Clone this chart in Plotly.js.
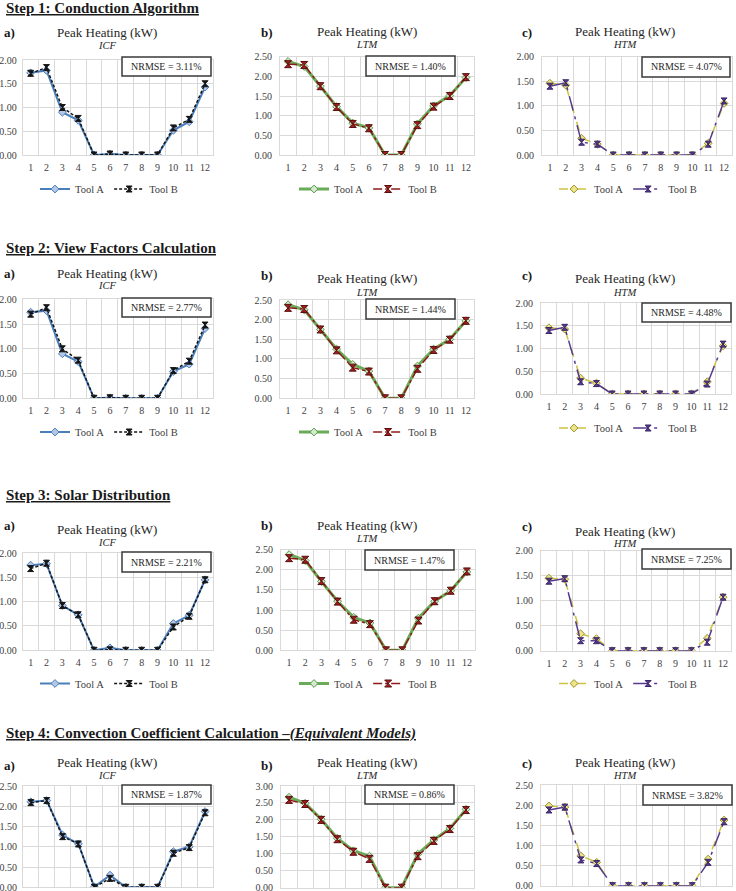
<!DOCTYPE html>
<html>
<head>
<meta charset="utf-8">
<script src="https://cdn.plot.ly/plotly-3.0.1.min.js"></script>
<style>
  html, body { margin: 0; padding: 0; background: #ffffff; }
  #chart { width: 736px; height: 891px; }
</style>
</head>
<body>
<div id="chart"></div>
<script>
// Months on the category axis
const months = ['1', '2', '3', '4', '5', '6', '7', '8', '9', '10', '11', '12'];

// Step 1: Conduction Algorithm — peak heating (kW)
const step1IcfA = [1.73, 1.78, 0.90, 0.73, 0.00, 0.02, 0.00, 0.00, 0.00, 0.52, 0.70, 1.43];
const step1IcfB = [1.72, 1.84, 1.00, 0.77, 0.00, 0.02, 0.00, 0.00, 0.00, 0.57, 0.75, 1.50];
const step1LtmA = [2.38, 2.25, 1.75, 1.23, 0.81, 0.69, 0.00, 0.00, 0.79, 1.25, 1.51, 1.97];
const step1LtmB = [2.31, 2.29, 1.75, 1.22, 0.79, 0.68, 0.00, 0.00, 0.76, 1.23, 1.50, 1.98];
const step1HtmA = [1.46, 1.42, 0.34, 0.22, 0.00, 0.00, 0.00, 0.00, 0.00, 0.00, 0.24, 1.05];
const step1HtmB = [1.40, 1.47, 0.26, 0.22, 0.00, 0.00, 0.00, 0.00, 0.00, 0.00, 0.22, 1.10];

// Step 2: View Factors Calculation
const step2IcfA = [1.74, 1.77, 0.90, 0.74, 0.00, 0.01, 0.00, 0.00, 0.00, 0.54, 0.69, 1.41];
const step2IcfB = [1.70, 1.83, 1.00, 0.77, 0.00, 0.01, 0.00, 0.00, 0.00, 0.56, 0.75, 1.48];
const step2LtmA = [2.38, 2.25, 1.75, 1.25, 0.86, 0.69, 0.00, 0.00, 0.82, 1.25, 1.50, 1.97];
const step2LtmB = [2.30, 2.27, 1.75, 1.22, 0.78, 0.68, 0.00, 0.00, 0.75, 1.23, 1.49, 1.97];
const step2HtmA = [1.46, 1.43, 0.35, 0.24, 0.00, 0.00, 0.00, 0.00, 0.00, 0.00, 0.27, 1.06];
const step2HtmB = [1.40, 1.47, 0.27, 0.23, 0.00, 0.00, 0.00, 0.00, 0.00, 0.00, 0.22, 1.10];

// Step 3: Solar Distribution
const step3IcfA = [1.75, 1.78, 0.92, 0.73, 0.00, 0.05, 0.00, 0.00, 0.00, 0.55, 0.72, 1.45];
const step3IcfB = [1.68, 1.79, 0.92, 0.73, 0.00, 0.01, 0.00, 0.00, 0.00, 0.48, 0.70, 1.45];
const step3LtmA = [2.38, 2.23, 1.71, 1.22, 0.82, 0.68, 0.00, 0.00, 0.80, 1.22, 1.48, 1.95];
const step3LtmB = [2.29, 2.25, 1.72, 1.21, 0.76, 0.65, 0.00, 0.00, 0.74, 1.22, 1.48, 1.96];
const step3HtmA = [1.45, 1.43, 0.34, 0.24, 0.00, 0.00, 0.00, 0.00, 0.00, 0.00, 0.25, 1.07];
const step3HtmB = [1.39, 1.44, 0.20, 0.20, 0.00, 0.00, 0.00, 0.00, 0.00, 0.00, 0.17, 1.07];

// Step 4: Convection Coefficient Calculation (Equivalent Models)
const step4IcfA = [2.11, 2.14, 1.29, 1.07, 0.01, 0.30, 0.00, 0.00, 0.00, 0.88, 1.00, 1.87];
const step4IcfB = [2.09, 2.14, 1.25, 1.07, 0.00, 0.22, 0.00, 0.00, 0.00, 0.84, 0.98, 1.84];
const step4LtmA = [2.67, 2.49, 2.02, 1.46, 1.09, 0.93, 0.00, 0.00, 0.99, 1.41, 1.75, 2.31];
const step4LtmB = [2.59, 2.47, 2.00, 1.43, 1.06, 0.85, 0.00, 0.00, 0.93, 1.38, 1.73, 2.29];
const step4HtmA = [1.98, 1.95, 0.74, 0.58, 0.00, 0.00, 0.00, 0.00, 0.00, 0.00, 0.66, 1.63];
const step4HtmB = [1.88, 1.95, 0.64, 0.55, 0.00, 0.00, 0.00, 0.00, 0.00, 0.00, 0.58, 1.59];

// Error labels, one per panel (row by row)
const nrmseLabels = [
  'NRMSE = 3.11%', 'NRMSE = 1.40%', 'NRMSE = 4.07%',
  'NRMSE = 2.77%', 'NRMSE = 1.44%', 'NRMSE = 4.48%',
  'NRMSE = 2.21%', 'NRMSE = 1.47%', 'NRMSE = 7.25%',
  'NRMSE = 1.87%', 'NRMSE = 0.86%', 'NRMSE = 3.82%'
];

// Y-axis upper limits per panel
const yAxisMax = [2.0, 2.5, 2.0, 2.0, 2.5, 2.0, 2.0, 2.5, 2.0, 2.5, 3.0, 2.5];

const stepHeadings = [
  '<b>Step 1: Conduction Algorithm</b>',
  '<b>Step 2: View Factors Calculation</b>',
  '<b>Step 3: Solar Distribution</b>',
  '<b>Step 4: Convection Coefficient Calculation –<i>(Equivalent Models)</i></b>'
];
const modelNames = ['ICF', 'LTM', 'HTM'];
const panelLetters = ['a)', 'b)', 'c)'];
const chartTitle = 'Peak Heating (kW)';
const seriesNames = ['Tool A', 'Tool B'];

const panelSeries = [
  [step1IcfA, step1IcfB], [step1LtmA, step1LtmB], [step1HtmA, step1HtmB],
  [step2IcfA, step2IcfB], [step2LtmA, step2LtmB], [step2HtmA, step2HtmB],
  [step3IcfA, step3IcfB], [step3LtmA, step3LtmB], [step3HtmA, step3HtmB],
  [step4IcfA, step4IcfB], [step4LtmA, step4LtmB], [step4HtmA, step4HtmB]
];

// ---- page geometry (pixels) ----
const W = 736, H = 891;
const px = v => v / W;
const py = v => 1 - v / H;
const SERIF = 'Liberation Serif, Times New Roman, serif';

// plot area of every panel: [left, right, top, bottom]
const frames = [
  [22.7, 213, 60, 155], [280, 474, 56.7, 155], [542, 732, 56.7, 155],
  [22.7, 213, 299.3, 398.3], [280, 474, 300, 398.3], [541, 731, 303.3, 394],
  [22.7, 213, 553, 650.3], [281, 475, 549.7, 650.3], [541, 731, 550.7, 650.7],
  [23, 213, 786, 887.3], [281, 474, 786, 887.7], [541, 732, 785, 885.7]
];
// NRMSE box: [left, right, top, bottom]
const boxes = [
  [122, 211, 57, 76], [366, 455, 56, 76], [642, 730, 57, 77],
  [122, 211, 298, 317], [366, 455, 299, 319], [642, 731, 303, 322],
  [122, 211, 552, 572], [365, 454, 550, 570], [642, 731, 549, 569],
  [122, 211, 785, 804], [365, 454, 785, 804], [643, 732, 785, 805]
];
// [title y, model y, letter y]
const headerY = [
  [32, 46, 33], [31.7, 45, 32], [31.7, 45, 33],
  [273, 285, 273], [278, 292, 275], [278, 292, 276],
  [529, 542, 525], [525, 538, 525], [531, 543, 526],
  [762, 775, 765], [762, 775, 765], [762, 775, 763]
];
const legendY = [189, 189, 189, 432, 432, 428, 683.5, 683.5, 683.5, null, null, null];
const colTitleX = [107, 367, 625];
const colLetterX = [9.5, 267, 527];
const colLegendX = [109, 368, 628];
const headingY = [8, 248, 495, 733];

// line/marker styling per model and tool
const styles = {
  ICF: [
    { line: { color: '#4a7ebb', width: 2 },
      marker: { symbol: 'diamond', size: 6, color: '#b4c7e7', line: { color: '#4a7ebb', width: 1 } } },
    { line: { color: '#151515', width: 1.5, dash: '3px,2px' },
      marker: { symbol: 'hourglass', size: 6, color: '#151515', line: { color: '#151515', width: 1 } } }
  ],
  LTM: [
    { line: { color: '#6aab57', width: 3 },
      marker: { symbol: 'diamond', size: 6, color: '#d5e8d0', line: { color: '#5a9a48', width: 1 } } },
    { line: { color: '#8e1b1b', width: 1.5, dash: 'dashdot' },
      marker: { symbol: 'hourglass', size: 7, color: '#a01e1e', line: { color: '#5a0e0e', width: 1 } } }
  ],
  HTM: [
    { line: { color: '#cdc244', width: 1.5, dash: 'dash' },
      marker: { symbol: 'diamond', size: 6, color: '#eee48a', line: { color: '#9a932c', width: 1 } } },
    { line: { color: '#553a8f', width: 1.5, dash: 'longdashdot' },
      marker: { symbol: 'hourglass', size: 6, color: '#553a8f', line: { color: '#3a2566', width: 1 } } }
  ]
};

const traces = [];
const annotations = [];
const shapes = [];
const layout = {
  width: W, height: H,
  margin: { l: 0, r: 0, t: 0, b: 0 },
  paper_bgcolor: '#ffffff',
  plot_bgcolor: '#ffffff',
  font: { family: SERIF, color: '#262626' },
  showlegend: true
};

stepHeadings.forEach((txt, r) => {
  annotations.push({
    xref: 'paper', yref: 'paper', x: px(4), y: py(headingY[r]),
    xanchor: 'left', yanchor: 'middle', showarrow: false, text: txt,
    font: { family: SERIF, size: 15, color: '#1a1a1a', lineposition: 'under' }
  });
});

panelSeries.forEach((pair, i) => {
  const row = Math.floor(i / 3), col = i % 3;
  const n = i + 1;
  const xId = n === 1 ? 'x' : 'x' + n;
  const yId = n === 1 ? 'y' : 'y' + n;
  const legId = n === 1 ? 'legend' : 'legend' + n;
  const model = modelNames[col];
  const [l, r, t, b] = frames[i];

  layout['xaxis' + (n === 1 ? '' : n)] = {
    domain: [px(l), px(r)], anchor: yId, type: 'category',
    categoryorder: 'array', categoryarray: months, range: [-0.5, 11.5],
    tickson: 'boundaries', ticks: '', tickangle: 0,
    showgrid: true, gridcolor: '#d9d9d9', gridwidth: 1,
    showline: true, linecolor: '#d9d9d9', linewidth: 1, mirror: true, zeroline: false,
    showticklabels: row < 3, ticklabeloverflow: 'allow',
    tickfont: { family: SERIF, size: 10, color: '#404040' }, ticklabelstandoff: 3,
    fixedrange: true
  };
  layout['yaxis' + (n === 1 ? '' : n)] = {
    domain: [py(b), py(t)], anchor: xId, range: [0, yAxisMax[i]], dtick: 0.5, tick0: 0,
    tickformat: '.2f', ticks: '', showgrid: true, gridcolor: '#d9d9d9', gridwidth: 1,
    showline: true, linecolor: '#d9d9d9', linewidth: 1, mirror: true, zeroline: false,
    ticklabeloverflow: 'allow',
    tickfont: { family: SERIF, size: 10, color: '#404040' }, ticklabelstandoff: col === 0 ? 3 : 5,
    fixedrange: true
  };

  const hasLegend = legendY[i] !== null;
  if (hasLegend) {
    layout[legId] = {
      orientation: 'h', x: px(colLegendX[col]), y: py(legendY[i]),
      xanchor: 'center', yanchor: 'middle', bgcolor: 'rgba(0,0,0,0)',
      font: { family: SERIF, size: 10.5, color: '#404040' },
      itemwidth: 30, traceorder: 'normal'
    };
  }

  pair.forEach((vals, k) => {
    const st = styles[model][k];
    traces.push({
      type: 'scatter', mode: 'lines+markers',
      x: months, y: vals, xaxis: xId, yaxis: yId,
      name: seriesNames[k], line: st.line, marker: st.marker,
      showlegend: hasLegend, legend: legId, hoverinfo: 'skip'
    });
  });

  // panel header
  const [ty, my, ly] = headerY[i];
  annotations.push({
    xref: 'paper', yref: 'paper', x: px(colLetterX[col]), y: py(ly),
    xanchor: 'center', yanchor: 'middle', showarrow: false, text: '<b>' + panelLetters[col] + '</b>',
    font: { family: SERIF, size: 13, color: '#1a1a1a' }
  });
  annotations.push({
    xref: 'paper', yref: 'paper', x: px(colTitleX[col]), y: py(ty),
    xanchor: 'center', yanchor: 'middle', showarrow: false, text: chartTitle,
    font: { family: SERIF, size: 13, color: '#262626' }
  });
  annotations.push({
    xref: 'paper', yref: 'paper', x: px(colTitleX[col]), y: py(my),
    xanchor: 'center', yanchor: 'middle', showarrow: false, text: '<i>' + model + '</i>',
    font: { family: SERIF, size: 10.5, color: '#262626' }
  });

  // NRMSE box
  const [bl, br, bt, bb] = boxes[i];
  shapes.push({
    type: 'rect', xref: 'paper', yref: 'paper',
    x0: px(bl), x1: px(br), y0: py(bb), y1: py(bt),
    fillcolor: '#ffffff', line: { color: '#3a3a3a', width: 1.5 }, layer: 'above'
  });
  annotations.push({
    xref: 'paper', yref: 'paper', x: px((bl + br) / 2), y: py((bt + bb) / 2),
    xanchor: 'center', yanchor: 'middle', showarrow: false, text: nrmseLabels[i],
    font: { family: SERIF, size: 10, color: '#262626' }
  });
});

layout.annotations = annotations;
layout.shapes = shapes;

Plotly.newPlot('chart', traces, layout, { staticPlot: true, displayModeBar: false });
</script>
</body>
</html>
